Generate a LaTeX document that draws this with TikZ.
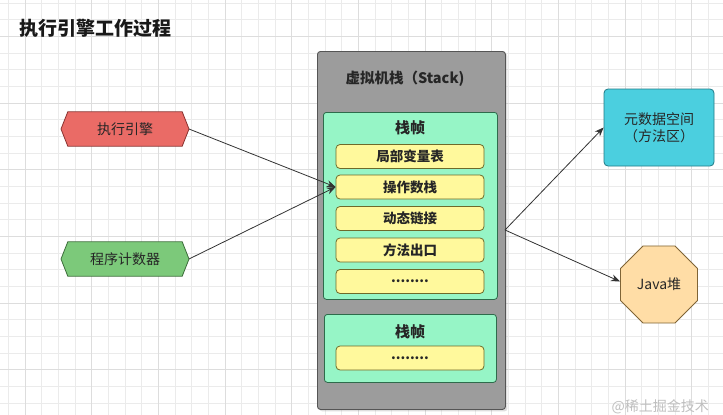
\documentclass[tikz,border=0pt]{standalone}
\usepackage{fontspec}
\setmainfont{Noto Sans CJK SC}
\usetikzlibrary{shapes.geometric,arrows.meta,shadows}
\definecolor{gridminor}{HTML}{EBEBEB}
\definecolor{gridmajor}{HTML}{DDDDDD}
\definecolor{stackfill}{HTML}{9C9C9C}
\definecolor{stackdraw}{HTML}{555555}
\definecolor{framefill}{HTML}{96F5C6}
\definecolor{framedraw}{HTML}{2E6B4B}
\definecolor{itemfill}{HTML}{FFF99C}
\definecolor{itemdraw}{HTML}{6E6A2A}
\definecolor{engfill}{HTML}{EA6B66}
\definecolor{engdraw}{HTML}{8A3330}
\definecolor{pcfill}{HTML}{7CC97A}
\definecolor{pcdraw}{HTML}{3C6E3A}
\definecolor{metafill}{HTML}{4BCFDF}
\definecolor{metadraw}{HTML}{217A86}
\definecolor{heapfill}{HTML}{FFDDA6}
\definecolor{heapdraw}{HTML}{7F6436}
\definecolor{arrowcol}{HTML}{333333}
\definecolor{txt}{HTML}{262626}
\tikzset{
  stackbox/.style={draw=stackdraw, fill=stackfill, line width=0.9pt, rounded corners=3pt, inner sep=0pt,
    drop shadow={opacity=0.25, shadow xshift=2pt, shadow yshift=-2pt}},
  framebox/.style={draw=framedraw, fill=framefill, line width=0.8pt, rounded corners=3pt, inner sep=0pt},
  itembox/.style={draw=itemdraw, fill=itemfill, line width=0.8pt, rounded corners=4pt, inner sep=0pt,
    minimum width=148pt, minimum height=24pt, text=txt, font=\fontsize{13.5}{15}\selectfont\bfseries},
  headtxt/.style={text=txt, font=\fontsize{15}{17}\selectfont\bfseries},
  hexcore/.style={inner sep=0pt, minimum width=114pt, minimum height=34pt, text=txt, font=\fontsize{14}{16}\selectfont},
  plaintxt/.style={text=txt, font=\fontsize{14}{17}\selectfont, align=center},
  arr/.style={draw=arrowcol, line width=0.8pt, -{Stealth[length=9pt,width=7pt]}},
}
\begin{document}
\begin{tikzpicture}[x=1pt,y=-1pt]
\useasboundingbox (0,0) rectangle (723,415);
\fill[white] (0,0) rectangle (723,415);
% grid
\foreach \i in {0,...,43} {\draw[gridminor, line width=0.6pt] (8.33+16.667*\i,0) -- ++(0,415);}
\foreach \i in {0,...,25} {\draw[gridminor, line width=0.6pt] (0,3+16.667*\i) -- ++(723,0);}
\foreach \i in {0,...,10} {\draw[gridmajor, line width=0.7pt] (25+66.667*\i,0) -- ++(0,415);}
\foreach \i in {0,...,6} {\draw[gridmajor, line width=0.7pt] (0,36.3+66.667*\i) -- ++(723,0);}

% title
\node[anchor=west, text=black!90, font=\fontsize{19}{22}\selectfont\bfseries] (title) at (16,28.5) {执行引擎工作过程};

% stack
\node[stackbox, anchor=north west, minimum width=188pt, minimum height=358pt] (stack) at (317,51) {};
\node[headtxt, font=\fontsize{14.5}{17}\selectfont\bfseries] (stacktitle) at (405,79) {虚拟机栈（Stack)};

\node[framebox, anchor=north west, minimum width=174pt, minimum height=187pt] (frameA) at (323,112) {};
\node[headtxt] (frameAtitle) at (410,128) {栈帧};
\node[itembox] (locals) at (410,156.5) {局部变量表};
\node[itembox] (ops) at (410,187) {操作数栈};
\node[itembox] (dyn) at (410,218.5) {动态链接};
\node[itembox] (ret) at (410,250) {方法出口};
\node[itembox] (moreA) at (410,281.5) {........};

\node[framebox, anchor=north west, minimum width=172pt, minimum height=68pt] (frameB) at (324,314) {};
\node[headtxt] (frameBtitle) at (410,332) {栈帧};
\node[itembox] (moreB) at (410,358) {........};

% hexagons
\node[hexcore] (eng) at (125,129) {};
\coordinate (engtip) at (189,129);
\fill[engfill] (61,129) -- (eng.north west) -- (eng.north east) -- (engtip) -- (eng.south east) -- (eng.south west) -- cycle;
\draw[engdraw, line width=0.8pt] (61,129) -- (eng.north west) -- (eng.north east) -- (engtip) -- (eng.south east) -- (eng.south west) -- cycle;
\node[hexcore] (englabel) at (125,129) {执行引擎};

\node[hexcore] (pc) at (125,259) {};
\coordinate (pctip) at (189,259);
\fill[pcfill] (61,259) -- (pc.north west) -- (pc.north east) -- (pctip) -- (pc.south east) -- (pc.south west) -- cycle;
\draw[pcdraw, line width=0.8pt] (61,259) -- (pc.north west) -- (pc.north east) -- (pctip) -- (pc.south east) -- (pc.south west) -- cycle;
\node[hexcore] (pclabel) at (125,259) {程序计数器};

% right side
\node[draw=metadraw, fill=metafill, line width=0.8pt, rounded corners=4pt, minimum width=110pt, minimum height=77pt, inner sep=0pt, plaintxt] (meta) at (659,127.5) {元数据空间\\（方法区）};
\node[regular polygon, regular polygon sides=8, minimum size=83.5pt, inner sep=0pt, draw=heapdraw, fill=heapfill, line width=0.8pt, plaintxt] (heap) at (659,284.5) {Java堆};

% connectors
\coordinate (src) at (505,230);
\draw[arr] (engtip) -- (ops.west);
\draw[arr] (pctip) -- (ops.west);
\draw[arr] (src) -- (meta.west);
\draw[arr] (src) -- ([yshift=3pt]heap.west);

% watermark
\node[anchor=west, text=black!25, font=\fontsize{14}{16}\selectfont] (wm) at (608,407) {@稀土掘金技术};
\end{tikzpicture}
\end{document}
